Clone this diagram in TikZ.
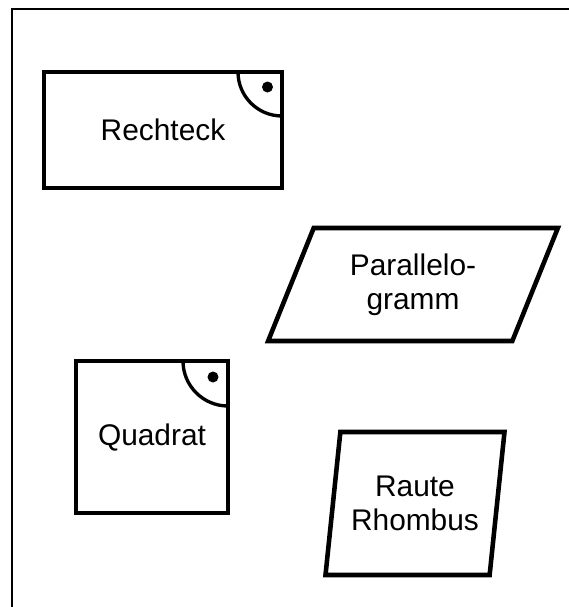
\documentclass[tikz,border=0pt]{standalone}
\usepackage{fontspec}
\setmainfont{Liberation Sans}
\usetikzlibrary{shapes.geometric}

\begin{document}
\begin{tikzpicture}[
		figur/.style={draw, line width=2.6pt, outer sep=0pt, inner sep=0pt, align=center, font=\fontsize{17}{19.5}\selectfont},
		schraeg/.style={figur, trapezium, trapezium stretches=true},
		winkel/.style={line width=1.9pt}
	]
				\useasboundingbox (0,0) rectangle (11.38,-12.14);
				\coordinate (F1) at (0.24,-12.14);
				\coordinate (F2) at (0.24,-0.18);
				\coordinate (F3) at (11.38,-0.18);
				\draw[line width=1.2pt] (F1) -- (F2) -- (F3);
				\node[figur, rectangle, minimum width=4.76cm, minimum height=2.32cm] (R) at (3.26,-2.60) {Rechteck};
				\node[figur, rectangle, minimum width=3.04cm, minimum height=3.04cm] (Q) at (3.04,-8.74) {Quadrat};
				\node[schraeg, trapezium left angle=65, trapezium right angle=115, minimum width=5.80cm, minimum height=2.26cm] (P) at (8.26,-5.69) {Parallelo-\\gramm};
				\node[schraeg, trapezium left angle=77, trapezium right angle=103, minimum width=3.60cm, minimum height=2.86cm] (H) at (8.30,-10.07) {Raute\\Rhombus};
				\draw[winkel] ([xshift=-0.88cm]R.north east) arc[start angle=180, end angle=270, radius=0.88cm];
				\fill ([shift={(-0.29,-0.30)}]R.north east) circle (0.11);
				\draw[winkel] ([xshift=-0.90cm]Q.north east) arc[start angle=180, end angle=270, radius=0.90cm];
				\fill ([shift={(-0.30,-0.32)}]Q.north east) circle (0.11);
\end{tikzpicture}
\end{document}
